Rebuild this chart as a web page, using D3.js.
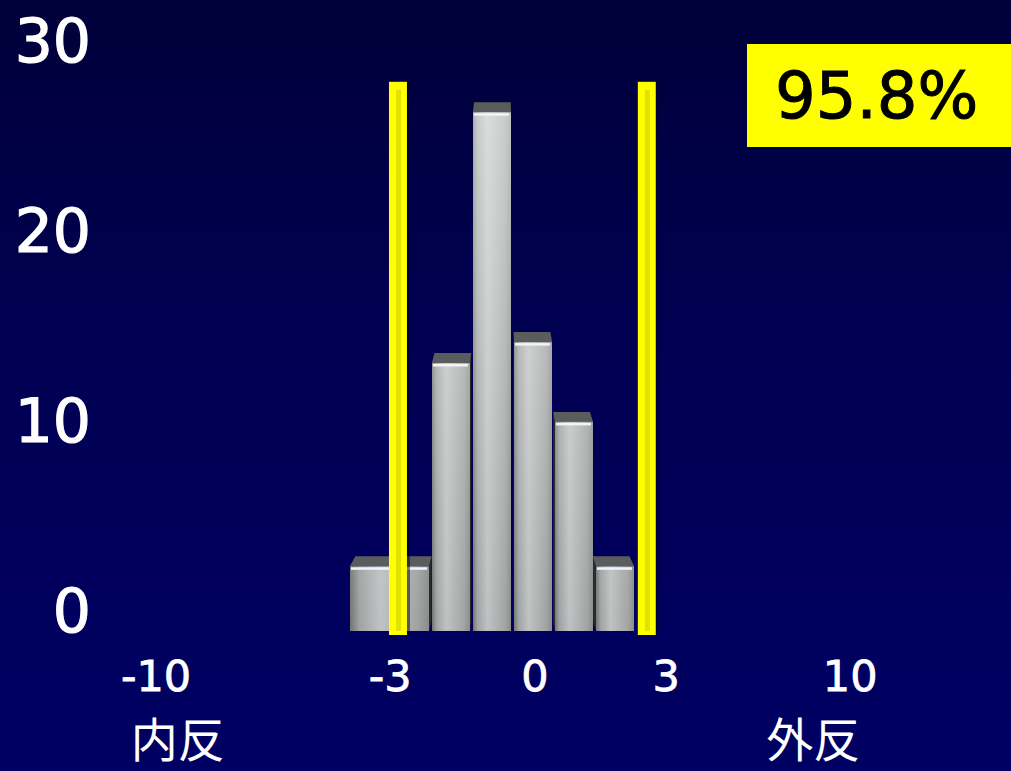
<!DOCTYPE html>
<html>
<head>
<meta charset="utf-8">
<script src="https://cdn.jsdelivr.net/npm/d3@7"></script>
<style>
  html, body { margin: 0; padding: 0; background: #000044; overflow: hidden; }
</style>
</head>
<body>
<div id="chart-region"></div>
<script>
const WIDTH = 1011;
const HEIGHT = 771;

// data
const binEdges = [-4, -2, -1, 0, 1, 2, 3];
const binCounts = [2.3, 13, 26.2, 14.1, 9.9, 2.3];
const yTickValues = [0, 10, 20, 30];
const xTickLabels = ["-10", "-3", "0", "3", "10"];
const xTickAt = [-8.73, -3.02, 0.51, 3.71, 8.2];
const limitLines = [-2.83, 3.24];
const limitTop = 27.8;
const sideLabels = ["内反", "外反"];
const sideLabelAt = [-8.2, 7.3];
const percentText = "95.8%";

const svg = d3.select("#chart-region").append("svg")
    .attr("width", WIDTH)
    .attr("height", HEIGHT);

const defs = svg.append("defs");

const bg = defs.append("linearGradient").attr("id", "bg")
    .attr("x1", 0).attr("y1", 0).attr("x2", 0).attr("y2", 1);
bg.append("stop").attr("offset", "0%").attr("stop-color", "#00003a");
bg.append("stop").attr("offset", "45%").attr("stop-color", "#000053");
bg.append("stop").attr("offset", "100%").attr("stop-color", "#000064");

const barGrad = defs.append("linearGradient").attr("id", "barGrad")
    .attr("x1", 0).attr("y1", 0).attr("x2", 1).attr("y2", 0);
barGrad.append("stop").attr("offset", "0%").attr("stop-color", "#727474");
barGrad.append("stop").attr("offset", "12%").attr("stop-color", "#a0a3a3");
barGrad.append("stop").attr("offset", "38%").attr("stop-color", "#bfc2c2");
barGrad.append("stop").attr("offset", "85%").attr("stop-color", "#a2a4a4");
barGrad.append("stop").attr("offset", "100%").attr("stop-color", "#8a8c8c");

const shine = defs.append("linearGradient").attr("id", "shine")
    .attr("gradientUnits", "userSpaceOnUse")
    .attr("x1", 0).attr("y1", 100).attr("x2", 0).attr("y2", 630);
shine.append("stop").attr("offset", "0%").attr("stop-color", "#ffffff").attr("stop-opacity", 0.45);
shine.append("stop").attr("offset", "100%").attr("stop-color", "#ffffff").attr("stop-opacity", 0);

svg.append("rect")
    .attr("width", WIDTH).attr("height", HEIGHT)
    .attr("fill", "url(#bg)");

const x = d3.scaleLinear().domain([-4, 3]).range([350, 637]);
const y = d3.scaleLinear().domain([0, 30]).range([610, 40]);
const FLOOR = 21;       // front floor sits below the back-wall zero
const DEPTH = 10;       // vertical depth of the top face
const VX = x(-0.25);    // vanishing x for perspective
const K = 0.035;
const GAP = 3;

const bars = binCounts.map((c, i) => {
    const x0 = x(binEdges[i]);
    const x1 = x(binEdges[i + 1]) - GAP;
    return {x0, x1, yt: y(c), yb: y(0) + FLOOR, mid: (x0 + x1) / 2};
}).sort((a, b) => Math.abs(b.mid - VX) - Math.abs(a.mid - VX));

const back = px => px + (VX - px) * K;

const barG = svg.append("g");
bars.forEach(b => {
    const g = barG.append("g");
    // side faces
    g.append("polygon")
        .attr("points", [[b.x0, b.yt], [back(b.x0), b.yt - DEPTH], [back(b.x0), b.yb - DEPTH], [b.x0, b.yb]].join(" "))
        .attr("fill", "#2a2b2b");
    g.append("polygon")
        .attr("points", [[b.x1, b.yt], [back(b.x1), b.yt - DEPTH], [back(b.x1), b.yb - DEPTH], [b.x1, b.yb]].join(" "))
        .attr("fill", "#2a2b2b");
    // top face
    g.append("polygon")
        .attr("points", [[b.x0, b.yt], [b.x1, b.yt], [back(b.x1), b.yt - DEPTH], [back(b.x0), b.yt - DEPTH]].join(" "))
        .attr("fill", "#5b5d5d");
    // front
    g.append("rect")
        .attr("x", b.x0).attr("y", b.yt)
        .attr("width", b.x1 - b.x0).attr("height", b.yb - b.yt)
        .attr("fill", "url(#barGrad)");
    g.append("rect")
        .attr("x", b.x0).attr("y", b.yt)
        .attr("width", b.x1 - b.x0).attr("height", b.yb - b.yt)
        .attr("fill", "url(#shine)");
    // highlight edge
    g.append("rect")
        .attr("x", b.x0 + 1).attr("y", b.yt + 1)
        .attr("width", b.x1 - b.x0 - 3).attr("height", 2.5)
        .attr("fill", "#f2f4f4");
});

// yellow limit lines
const limG = svg.append("g");
limitLines.forEach(v => {
    const cx = x(v);
    limG.append("rect")
        .attr("x", cx - 9).attr("y", y(limitTop))
        .attr("width", 18).attr("height", y(0) + FLOOR + 4 - y(limitTop))
        .attr("fill", "#ffff00");
    limG.append("rect")
        .attr("x", cx - 2).attr("y", y(limitTop) + 8)
        .attr("width", 5).attr("height", y(0) + FLOOR - 8 - y(limitTop))
        .attr("fill", "#e2e200");
    limG.append("rect")
        .attr("x", cx + 9).attr("y", y(limitTop))
        .attr("width", 3).attr("height", y(0) + FLOOR + 4 - y(limitTop))
        .attr("fill", "#000030").attr("opacity", 0.5);
});

// y axis labels
svg.append("g").selectAll("text")
    .data(yTickValues)
    .enter()
    .append("text")
    .attr("x", 91)
    .attr("y", d => y(d))
    .attr("dy", "0.37em")
    .attr("text-anchor", "end")
    .attr("font-family", "DejaVu Sans")
    .attr("font-size", "60px")
    .attr("fill", "#ffffff")
    .attr("stroke", "#ffffff")
    .attr("stroke-width", 1.2)
    .text(d => d);

// x axis labels
svg.append("g").selectAll("text")
    .data(xTickLabels)
    .enter()
    .append("text")
    .attr("x", (d, i) => x(xTickAt[i]))
    .attr("y", 691)
    .attr("text-anchor", "middle")
    .attr("font-family", "DejaVu Sans")
    .attr("font-size", "43px")
    .attr("fill", "#ffffff")
    .attr("stroke", "#ffffff")
    .attr("stroke-width", 0.8)
    .text(d => d);

// side labels
svg.append("g").selectAll("text")
    .data(sideLabels)
    .enter()
    .append("text")
    .attr("x", (d, i) => x(sideLabelAt[i]))
    .attr("y", 757)
    .attr("text-anchor", "middle")
    .attr("font-family", "Noto Sans CJK JP")
    .attr("font-size", "47px")
    .attr("fill", "#ffffff")
    .text(d => d);

// percentage box
svg.append("rect")
    .attr("x", 747).attr("y", 44)
    .attr("width", WIDTH - 747).attr("height", 103)
    .attr("fill", "#ffff00");
svg.append("text")
    .attr("x", 775).attr("y", 118)
    .attr("font-family", "DejaVu Sans")
    .attr("font-size", "64px")
    .attr("fill", "#000000")
    .attr("stroke", "#000000")
    .attr("stroke-width", 1)
    .text(percentText);
</script>
</body>
</html>
